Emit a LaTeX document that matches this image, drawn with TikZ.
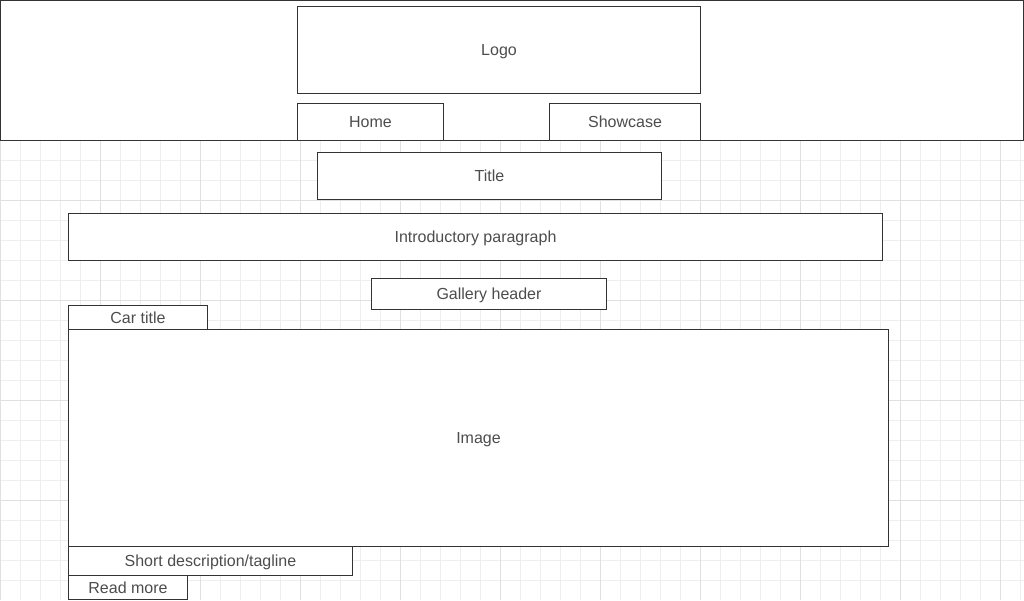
\documentclass[tikz,border=0pt]{standalone}
\usepackage{fontspec}
\setmainfont{Liberation Sans}
\definecolor{strokec}{HTML}{333333}
\definecolor{textc}{HTML}{4D4D4D}
\definecolor{gridminor}{HTML}{EEEEEE}
\definecolor{gridmajor}{HTML}{E0E0E0}
\begin{document}
\begin{tikzpicture}[x=0.75pt,y=-0.75pt,
  box/.style={draw=strokec,fill=white,line width=0.75pt,inner sep=0pt,
    text height=10.6pt,text depth=2pt,
    text=textc,font=\fontsize{12pt}{14pt}\selectfont},
  minorline/.style={draw=gridminor,line width=0.75pt},
  majorline/.style={draw=gridmajor,line width=0.75pt}]
\useasboundingbox (0,0) rectangle (1024,600);
\fill[white] (0,0) rectangle (1024,600);
% grid
\foreach \i in {0,20,...,1020} {
  \draw[minorline] (\i+0.5,0) -- (\i+0.5,600);
}
\foreach \j in {0,20,...,580} {
  \draw[minorline] (0,\j+0.5) -- (1024,\j+0.5);
}
\foreach \i in {0,100,...,1000} {
  \draw[majorline] (\i+0.5,0) -- (\i+0.5,600);
}
\foreach \j in {0,100,...,500} {
  \draw[majorline] (0,\j+0.5) -- (1024,\j+0.5);
}
% header
\node[box,minimum width=767.25pt,minimum height=105pt] (header) at (512,70.5) {};
\node[box,minimum width=302.25pt,minimum height=65.25pt] (logo) at (499,50) {Logo};
\node[box,minimum width=109.5pt,minimum height=27.75pt] (home) at (370.5,122) {Home};
\node[box,minimum width=113.25pt,minimum height=27.75pt] (showcase) at (625,122) {Showcase};
% body
\node[box,minimum width=258pt,minimum height=35.25pt] (title) at (489.5,176) {Title};
\node[box,minimum width=610.5pt,minimum height=35.25pt] (intro) at (475.5,237) {Introductory paragraph};
\node[box,minimum width=176.25pt,minimum height=23.25pt] (gallery) at (489,294) {Gallery header};
\node[box,minimum width=615pt,minimum height=162.75pt] (image) at (478.5,438) {Image};
\node[box,minimum width=104.25pt,minimum height=18pt] (cartitle) at (138,317.5) {Car title};
\node[box,minimum width=213pt,minimum height=21.75pt] (short) at (210.5,561) {Short description/tagline};
\node[box,minimum width=89.25pt,minimum height=18pt] (readmore) at (128,587.5) {Read more};
\end{tikzpicture}
\end{document}
